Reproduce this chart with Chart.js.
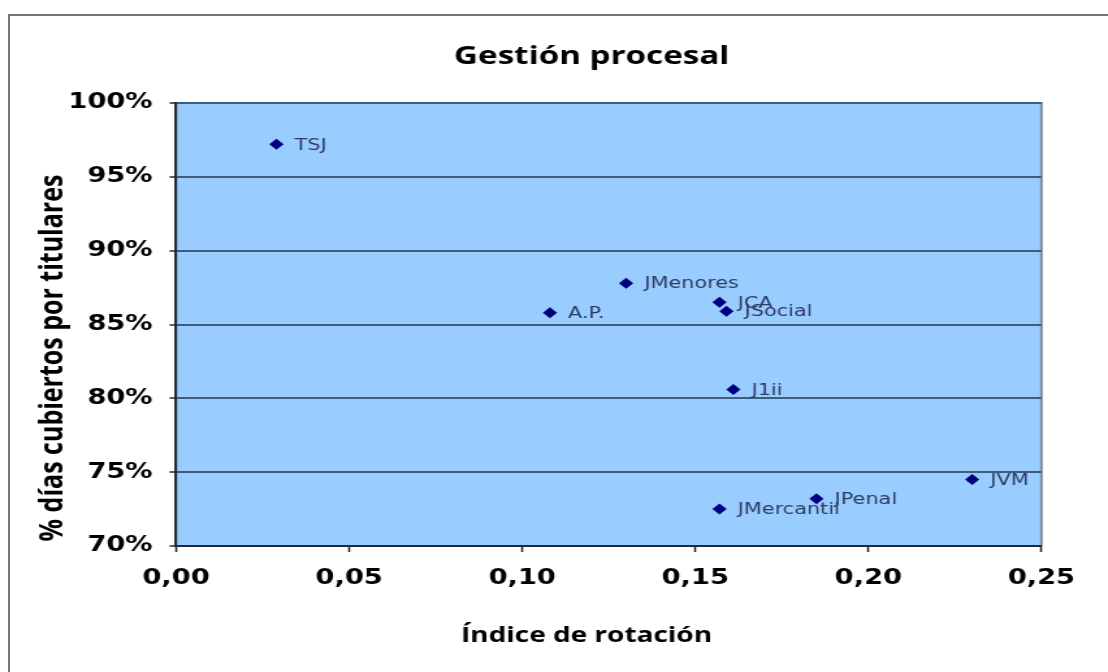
<!DOCTYPE html>
<html>
<head>
<meta charset="utf-8">
<title>Gestión procesal</title>
<script src="https://cdn.jsdelivr.net/npm/chart.js@4.4.0/dist/chart.umd.min.js"></script>
<style>
    html, body { margin: 0; padding: 0; background: #fff; width: 1108px; height: 672px; overflow: hidden; }
    #frame { position: absolute; left: 8px; top: 14px; width: 1200px; height: 800px; border-left: 2px solid #777; border-top: 2px solid #777; }
    #chart { position: absolute; left: 0; top: 0; }
</style>
</head>
<body>
<div id="frame"></div>
<!-- drawn narrower and stretched sideways, like the original picture -->
<canvas id="chart" width="852" height="672" style="width:1108px;height:672px"></canvas>
<script>
// === DATA ===
const courtNames = ['TSJ', 'A.P.', 'JMenores', 'JCA', 'JSocial', 'J1ii', 'JVM', 'JPenal', 'JMercantil'];
const rotationIndex = [0.029, 0.108, 0.130, 0.157, 0.159, 0.161, 0.230, 0.185, 0.157];
const coveredDaysPct = [97.2, 85.8, 87.8, 86.5, 85.9, 80.6, 74.5, 73.2, 72.5];

const xRange = [0, 0.25];
const xStep = 0.05;
const yRange = [70, 100];
const yStep = 5;

// === STYLE ===
const font = "'DejaVu Sans', Verdana, sans-serif";       // ticks + point names
const titleFont = "'Open Sans', 'DejaVu Sans', sans-serif"; // titles
const gridColor = '#3f5c7a';

// plot area background + frame
const plotBackground = {
    id: 'plotBackground',
    beforeDraw(chart) {
        const { ctx, chartArea: a } = chart;
        ctx.save();
        ctx.fillStyle = '#99ccff';
        ctx.fillRect(a.left, a.top, a.right - a.left, a.bottom - a.top);
        ctx.strokeStyle = '#7f8c99';
        ctx.lineWidth = 2;
        ctx.strokeRect(a.left, a.top, a.right - a.left, a.bottom - a.top);
        ctx.restore();
    }
};

// chart title and axis titles, placed like the original
const titles = {
    id: 'titles',
    afterDraw(chart) {
        const ctx = chart.ctx;
        ctx.save();
        ctx.fillStyle = '#000';
        ctx.textAlign = 'center';
        ctx.textBaseline = 'middle';
        ctx.font = 'bold 25.5px ' + titleFont;
        ctx.fillText('Gestión procesal', 455, 57);

        ctx.font = 'bold 21.5px ' + titleFont;
        ctx.fillText('Índice de rotación', 451, 636);

        ctx.translate(41, 358);
        ctx.rotate(-Math.PI / 2);
        ctx.font = 'bold 25px ' + titleFont;
        ctx.fillText('% días cubiertos por titulares', 0, 0);
        ctx.restore();
    }
};

// name next to each point
const pointLabels = {
    id: 'pointLabels',
    afterDatasetsDraw(chart) {
        const ctx = chart.ctx;
        const meta = chart.getDatasetMeta(0);
        ctx.save();
        ctx.font = '16px ' + font;
        ctx.fillStyle = '#2e3b63';
        ctx.textBaseline = 'middle';
        meta.data.forEach((pt, i) => {
            ctx.fillText(courtNames[i], pt.x + 14, pt.y + 1);
        });
        ctx.restore();
    }
};

const ctx = document.getElementById('chart').getContext('2d');
new Chart(ctx, {
    type: 'scatter',
    data: {
        datasets: [{
            data: rotationIndex.map((x, i) => ({ x: x, y: coveredDaysPct[i] })),
            pointStyle: 'rectRot',
            pointRadius: 5.5,
            pointHoverRadius: 5.5,
            backgroundColor: '#000080',
            borderColor: '#000080',
            borderWidth: 0
        }]
    },
    options: {
        responsive: false,
        animation: false,
        events: [],
        layout: { padding: { top: 103, right: 51.2, bottom: 25.2, left: 31.4 } },
        plugins: {
            legend: { display: false },
            tooltip: { enabled: false }
        },
        scales: {
            x: {
                type: 'linear',
                min: xRange[0],
                max: xRange[1],
                ticks: {
                    stepSize: xStep,
                    callback: v => v.toFixed(2).replace('.', ','),
                    color: '#000',
                    font: { family: font, weight: 'bold', size: 21 },
                    padding: 14,
                    maxRotation: 0
                },
                grid: { drawOnChartArea: false, tickLength: 6, tickColor: '#222', tickWidth: 1.5 },
                border: { color: '#1d2a38', width: 2 },
                afterFit: s => { s.height = 100.8; }
            },
            y: {
                min: yRange[0],
                max: yRange[1],
                ticks: {
                    stepSize: yStep,
                    callback: v => v + '%',
                    color: '#000',
                    font: { family: font, weight: 'bold', size: 21 },
                    padding: 13
                },
                grid: { color: gridColor, lineWidth: 2, tickLength: 5, tickColor: '#222', tickWidth: 1.5 },
                border: { color: '#1d2a38', width: 2 },
                afterFit: s => { s.width = 104; }
            }
        }
    },
    plugins: [plotBackground, pointLabels, titles]
});
</script>
</body>
</html>
